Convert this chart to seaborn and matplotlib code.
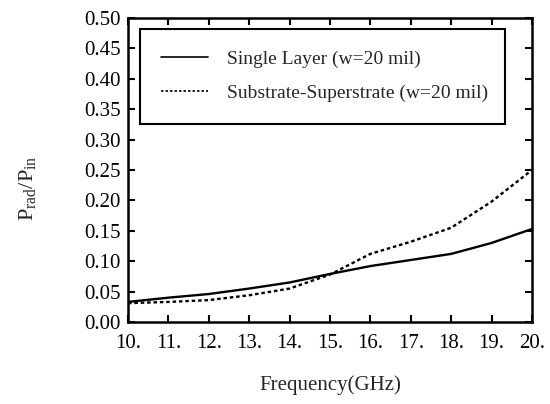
import matplotlib
matplotlib.use("Agg")
import matplotlib.pyplot as plt
import seaborn as sns
import pandas as pd

freq = [10, 11, 12, 13, 14, 15, 16, 17, 18, 19, 20]
single_layer = [0.033, 0.040, 0.046, 0.055, 0.065, 0.079, 0.092, 0.102, 0.112, 0.130, 0.153]
sub_super = [0.031, 0.033, 0.036, 0.044, 0.055, 0.078, 0.112, 0.132, 0.155, 0.198, 0.250]
labels = ["Single Layer (w=20 mil)", "Substrate-Superstrate (w=20 mil)"]
xticks = [10, 11, 12, 13, 14, 15, 16, 17, 18, 19, 20]
xticklabels = [f"{v}." for v in xticks]
yticks = [0.00, 0.05, 0.10, 0.15, 0.20, 0.25, 0.30, 0.35, 0.40, 0.45, 0.50]

sns.set_theme(style="ticks")
plt.rcParams["font.family"] = ["Liberation Serif", "DejaVu Serif"]
plt.rcParams["mathtext.fontset"] = "custom"
plt.rcParams["mathtext.rm"] = "Liberation Serif"
plt.rcParams["mathtext.it"] = "Liberation Serif:italic"

df = pd.DataFrame({
    "freq": freq * 2,
    "val": single_layer + sub_super,
    "series": [labels[0]] * len(freq) + [labels[1]] * len(freq),
})

fig = plt.figure(figsize=(5.5, 4.04), dpi=100)
ax = fig.add_axes([0.2327, 0.203, 0.7345, 0.7524])

sns.lineplot(data=df, x="freq", y="val", hue="series", style="series",
             palette=["black", "black"], dashes=[(None, None), (1.5, 1.2)],
             linewidth=1.7, ax=ax, legend=True)
for ln, ls in zip(ax.lines, ["-", (0, (1.5, 1.2))]):
    ln.set_linestyle(ls)

ax.set_xlim(10, 20)
ax.set_ylim(0, 0.5)
ax.set_xticks(xticks)
ax.set_xticklabels(xticklabels)
ax.set_yticks(yticks)
ax.set_yticklabels([f"{v:.2f}" for v in yticks])
ax.tick_params(direction="in", top=True, right=True, length=5, width=1.5,
               labelsize=15, colors="black", pad=5)
ax.tick_params(axis="x", pad=9)
for s in ax.spines.values():
    s.set_linewidth(1.8)
    s.set_color("black")

ax.set_xlabel("Frequency(GHz)", fontsize=15, labelpad=16)
ax.set_ylabel(r"$\mathrm{P_{rad}/P_{in}}$", fontsize=16)
ax.yaxis.set_label_coords(-0.222, 0.44)

handles, lbls = ax.get_legend_handles_labels()
leg = ax.legend(handles, lbls, loc="upper left",
                bbox_to_anchor=(0.0297, 0.964, 0.9035, 0.0), mode="expand",
                borderaxespad=0, frameon=True, fancybox=False, fontsize=14,
                handlelength=2.4, handletextpad=1.0, borderpad=1.1,
                labelspacing=0.85, framealpha=1)
leg.get_frame().set_edgecolor("black")
leg.get_frame().set_linewidth(1.5)
for lh in leg.get_lines():
    lh.set_linewidth(1.2)

fig.savefig("out.png", dpi=100)
